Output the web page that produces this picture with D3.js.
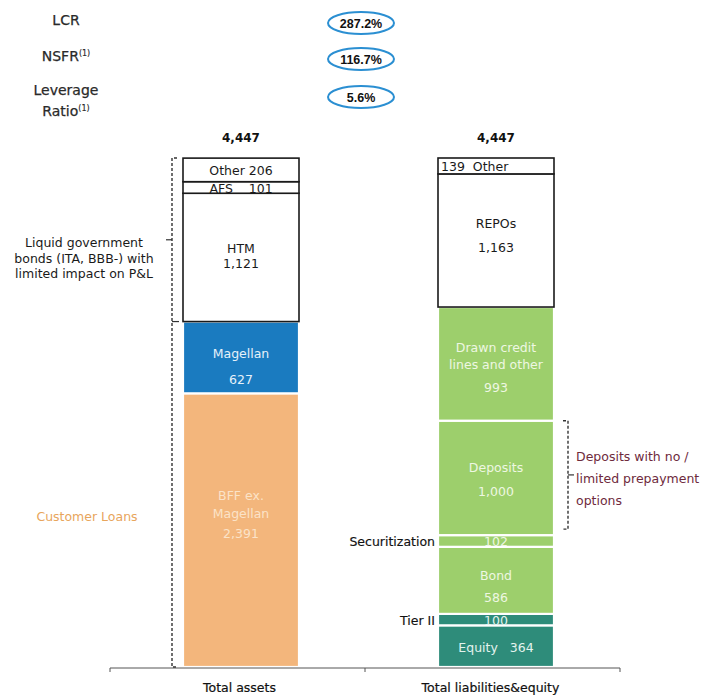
<!DOCTYPE html>
<html><head><meta charset="utf-8">
<script src="https://cdn.jsdelivr.net/npm/d3@7"></script>
<style>body{margin:0;background:#fff}svg text{white-space:pre}</style>
</head><body><svg id="c" width="714" height="697"></svg>
<script>
// ---------- data ----------
const categories = ["Total assets", "Total liabilities&equity"];
const totalValue = 4447;
const assetNames  = ["BFF ex.\nMagellan", "Magellan", "HTM", "AFS", "Other"];
const assetValues = [2391, 627, 1121, 101, 206];
const assetKinds  = ["orange", "blue", "white", "white", "white"];
const liabNames  = ["Equity", "Tier II", "Bond", "Securitization", "Deposits", "Drawn credit\nlines and other", "REPOs", "Other"];
const liabValues = [364, 100, 586, 102, 1000, 993, 1163, 139];
const liabKinds  = ["teal", "teal", "green", "green", "green", "green", "white", "white"];
const ratioNames  = ["LCR", "NSFR", "Leverage\nRatio"];
const ratioNotes  = ["", "(1)", "(1)"];
const ratioValues = ["287.2%", "116.7%", "5.6%"];

// ---------- styles ----------
const fills = {white:"#ffffff", orange:"#f3b67c", blue:"#1a7bc0", green:"#9dcf6c", teal:"#2e8c7a"};
const textCol = {white:"#1a1a1a", orange:"#fbe3c8", blue:"#e6f1fa", green:"#eef7e2", teal:"#e3f3ee"};
const fmt = d3.format(",");
const FONT = "DejaVu Sans";

const svg = d3.select("#c");
const y = d3.scaleLinear().domain([0, totalValue]).range([667, 158]);
const x = d3.scaleBand().domain(categories).range([112, 622]);
const barW = 116;
const cx = c => x(c) + x.bandwidth() / 2 + 1.5;

function labelLines(name, value, kind) {
  const v = fmt(value);
  if (name === "Other" && kind === "white" && value > 150) return {lines:[name + " " + v], single:true};
  if (name === "Other") return {lines:[v + "  Other"], single:true, anchor:"start"};
  if (name === "AFS") return {lines:[name + "    " + v], single:true};
  if (name === "Equity") return {lines:[name + "   " + v], single:true};
  if (name === "Securitization" || name === "Tier II") return {lines:[v], single:true};
  return {lines: name.split("\n").concat([v])};
}
const gaps = {"HTM":[15], "REPOs":[24], "Magellan":[26], "Deposits":[24], "Bond":[22],
  "Drawn credit\nlines and other":[17,23], "BFF ex.\nMagellan":[18,20]};
const nudge = {"HTM":-1, "REPOs":-5, "Magellan":9, "Deposits":2, "Bond":6, "Drawn credit\nlines and other":4, "BFF ex.\nMagellan":-16};

function stack(names, values, kinds) {
  let acc = 0;
  return names.map((n, i) => { const d = {name:n, value:values[i], kind:kinds[i], y0:acc, y1:acc + values[i]}; acc += values[i]; return d; });
}
const stacks = [stack(assetNames, assetValues, assetKinds), stack(liabNames, liabValues, liabKinds)];

stacks.forEach((segs, ci) => {
  const c = categories[ci];
  const left = cx(c) - barW / 2;
  const g = svg.append("g");
  const ordered = segs.filter(d => d.kind !== "white").concat(segs.filter(d => d.kind === "white"));
  g.selectAll("rect").data(ordered).join("rect")
    .attr("x", left).attr("width", barW)
    .attr("y", d => y(d.y1)).attr("height", d => y(d.y0) - y(d.y1))
    .attr("fill", d => fills[d.kind])
    .attr("stroke", d => d.kind === "white" ? "#1a1a1a" : "#ffffff")
    .attr("stroke-width", d => d.kind === "white" ? 1.6 : 2.2);
  segs.forEach(d => {
    const L = labelLines(d.name, d.value, d.kind);
    const mid = (y(d.y0) + y(d.y1)) / 2;
    const col = textCol[d.kind];
    if (L.single) {
      const t = g.append("text").attr("font-family", FONT).attr("font-size", 12.5).attr("fill", col)
        .attr("y", mid + 5.5).text(L.lines[0]);
      if (L.anchor === "start") t.attr("x", left + 3).attr("text-anchor", "start");
      else t.attr("x", cx(c)).attr("text-anchor", "middle");
    } else {
      const gp = gaps[d.name] || [20];
      const total = gp.reduce((a, b) => a + b, 0);
      let by = mid - total / 2 + 4.5 + (nudge[d.name] || 0);
      L.lines.forEach((ln, i) => {
        g.append("text").attr("font-family", FONT).attr("font-size", 12.5).attr("fill", col)
          .attr("x", cx(c)).attr("text-anchor", "middle").attr("y", by).text(ln);
        by += gp[i] || 0;
      });
    }
  });
  svg.append("text").attr("font-family", FONT).attr("font-weight", "bold").attr("font-size", 12)
    .attr("fill", "#111").attr("x", cx(c)).attr("y", 142).attr("text-anchor", "middle").text(fmt(totalValue));
  svg.append("text").attr("font-family", FONT).attr("font-size", 12.5).attr("fill", "#111")
    .attr("stroke", "#111").attr("stroke-width", 0.2)
    .attr("x", x(c) + x.bandwidth() / 2 + (ci ? -4 : 0)).attr("y", 692).attr("text-anchor", "middle").text(c);
});

// axis
const axY = 668;
svg.append("line").attr("x1", x.range()[0] - 2).attr("x2", x.range()[1] - 2).attr("y1", axY).attr("y2", axY)
  .attr("stroke", "#555").attr("stroke-width", 1);
[x(categories[0]), x(categories[1]), x.range()[1]].forEach(t => {
  svg.append("line").attr("x1", t - 2).attr("x2", t - 2).attr("y1", axY).attr("y2", axY + 4).attr("stroke", "#555");
});

// side labels for thin liability segments
const liabStack = stacks[1];
const rLeft = cx(categories[1]) - barW / 2;
["Securitization", "Tier II"].forEach(n => {
  const d = liabStack.find(s => s.name === n);
  svg.append("text").attr("font-family", FONT).attr("font-size", 12.5).attr("fill", "#111")
    .attr("stroke", "#111").attr("stroke-width", 0.15)
    .attr("x", rLeft - 3).attr("y", (y(d.y0) + y(d.y1)) / 2 + 5).attr("text-anchor", "end").text(n);
});

// left dashed bracket
const aStack = stacks[0];
const lLeft = cx(categories[0]) - barW / 2;
const bx = lLeft - 11;
const htm = aStack.find(s => s.name === "HTM");
const dash = {stroke:"#333", "stroke-width":1.4, "stroke-dasharray":"3,2", fill:"none"};
function path(dstr, st) { const p = svg.append("path").attr("d", dstr); Object.entries(st).forEach(([k, v]) => p.attr(k, v)); return p; }
path(`M${bx+5},${y(totalValue)} H${bx} V${y(0)} H${bx+5}`, dash);
path(`M${bx},${y(htm.y0)} H${bx+7}`, {stroke:"#333", "stroke-width":1.2});
path(`M${bx},${(y(totalValue) + y(htm.y0)) / 2} H${bx-6}`, {stroke:"#333", "stroke-width":1.2});
["Liquid government", "bonds (ITA, BBB-) with", "limited impact on P&L"].forEach((t, i) => {
  svg.append("text").attr("font-family", FONT).attr("font-size", 12.5).attr("fill", "#1a1a1a")
    .attr("x", 84).attr("y", 247 + i * 15.5).attr("text-anchor", "middle").text(t);
});
svg.append("text").attr("font-family", FONT).attr("font-size", 12.5).attr("fill", "#e8a55c")
  .attr("x", 87).attr("y", 521).attr("text-anchor", "middle").text("Customer Loans");

// right dashed bracket for deposits
const dep = liabStack.find(s => s.name === "Deposits");
const rx = rLeft + barW + 14;
path(`M${rx-5},${y(dep.y1)} H${rx} V${y(dep.y0) - 6} H${rx-5}`, dash);
const depMid = (y(dep.y1) + y(dep.y0) - 6) / 2;
path(`M${rx},${depMid} H${rx+6}`, {stroke:"#333", "stroke-width":1.2});
["Deposits with no /", "limited prepayment", "options"].forEach((t, i) => {
  svg.append("text").attr("font-family", FONT).attr("font-size", 12.5).attr("fill", "#6e2a3c")
    .attr("x", 576).attr("y", depMid - 14 + i * 22).text(t);
});

// ratios at the top
const ratioY = [23, 59, 97];
ratioNames.forEach((n, i) => {
  const lines = n.split("\n");
  const t0 = i === 2 ? 95 : ratioY[i] + 2;
  lines.forEach((ln, j) => {
    const t = svg.append("text").attr("font-family", FONT).attr("font-size", 14).attr("fill", "#2a2a2a")
      .attr("stroke", "#2a2a2a").attr("stroke-width", 0.25)
      .attr("x", 66).attr("y", t0 + j * 21).attr("text-anchor", "middle");
    t.append("tspan").text(ln);
    if (j === lines.length - 1 && ratioNotes[i]) {
      t.append("tspan").attr("font-size", 8).attr("stroke-width", 0.15).attr("dy", -5).text(ratioNotes[i]);
    }
  });
  svg.append("ellipse").attr("cx", 361).attr("cy", ratioY[i]).attr("rx", 33).attr("ry", 11)
    .attr("fill", "#fff").attr("stroke", "#2b8fd2").attr("stroke-width", 2);
  svg.append("text").attr("font-family", "Liberation Sans").attr("font-weight", "bold").attr("font-size", 12.5)
    .attr("fill", "#111").attr("x", 361).attr("y", ratioY[i] + 4.5).attr("text-anchor", "middle").text(ratioValues[i]);
});
</script></body></html>
